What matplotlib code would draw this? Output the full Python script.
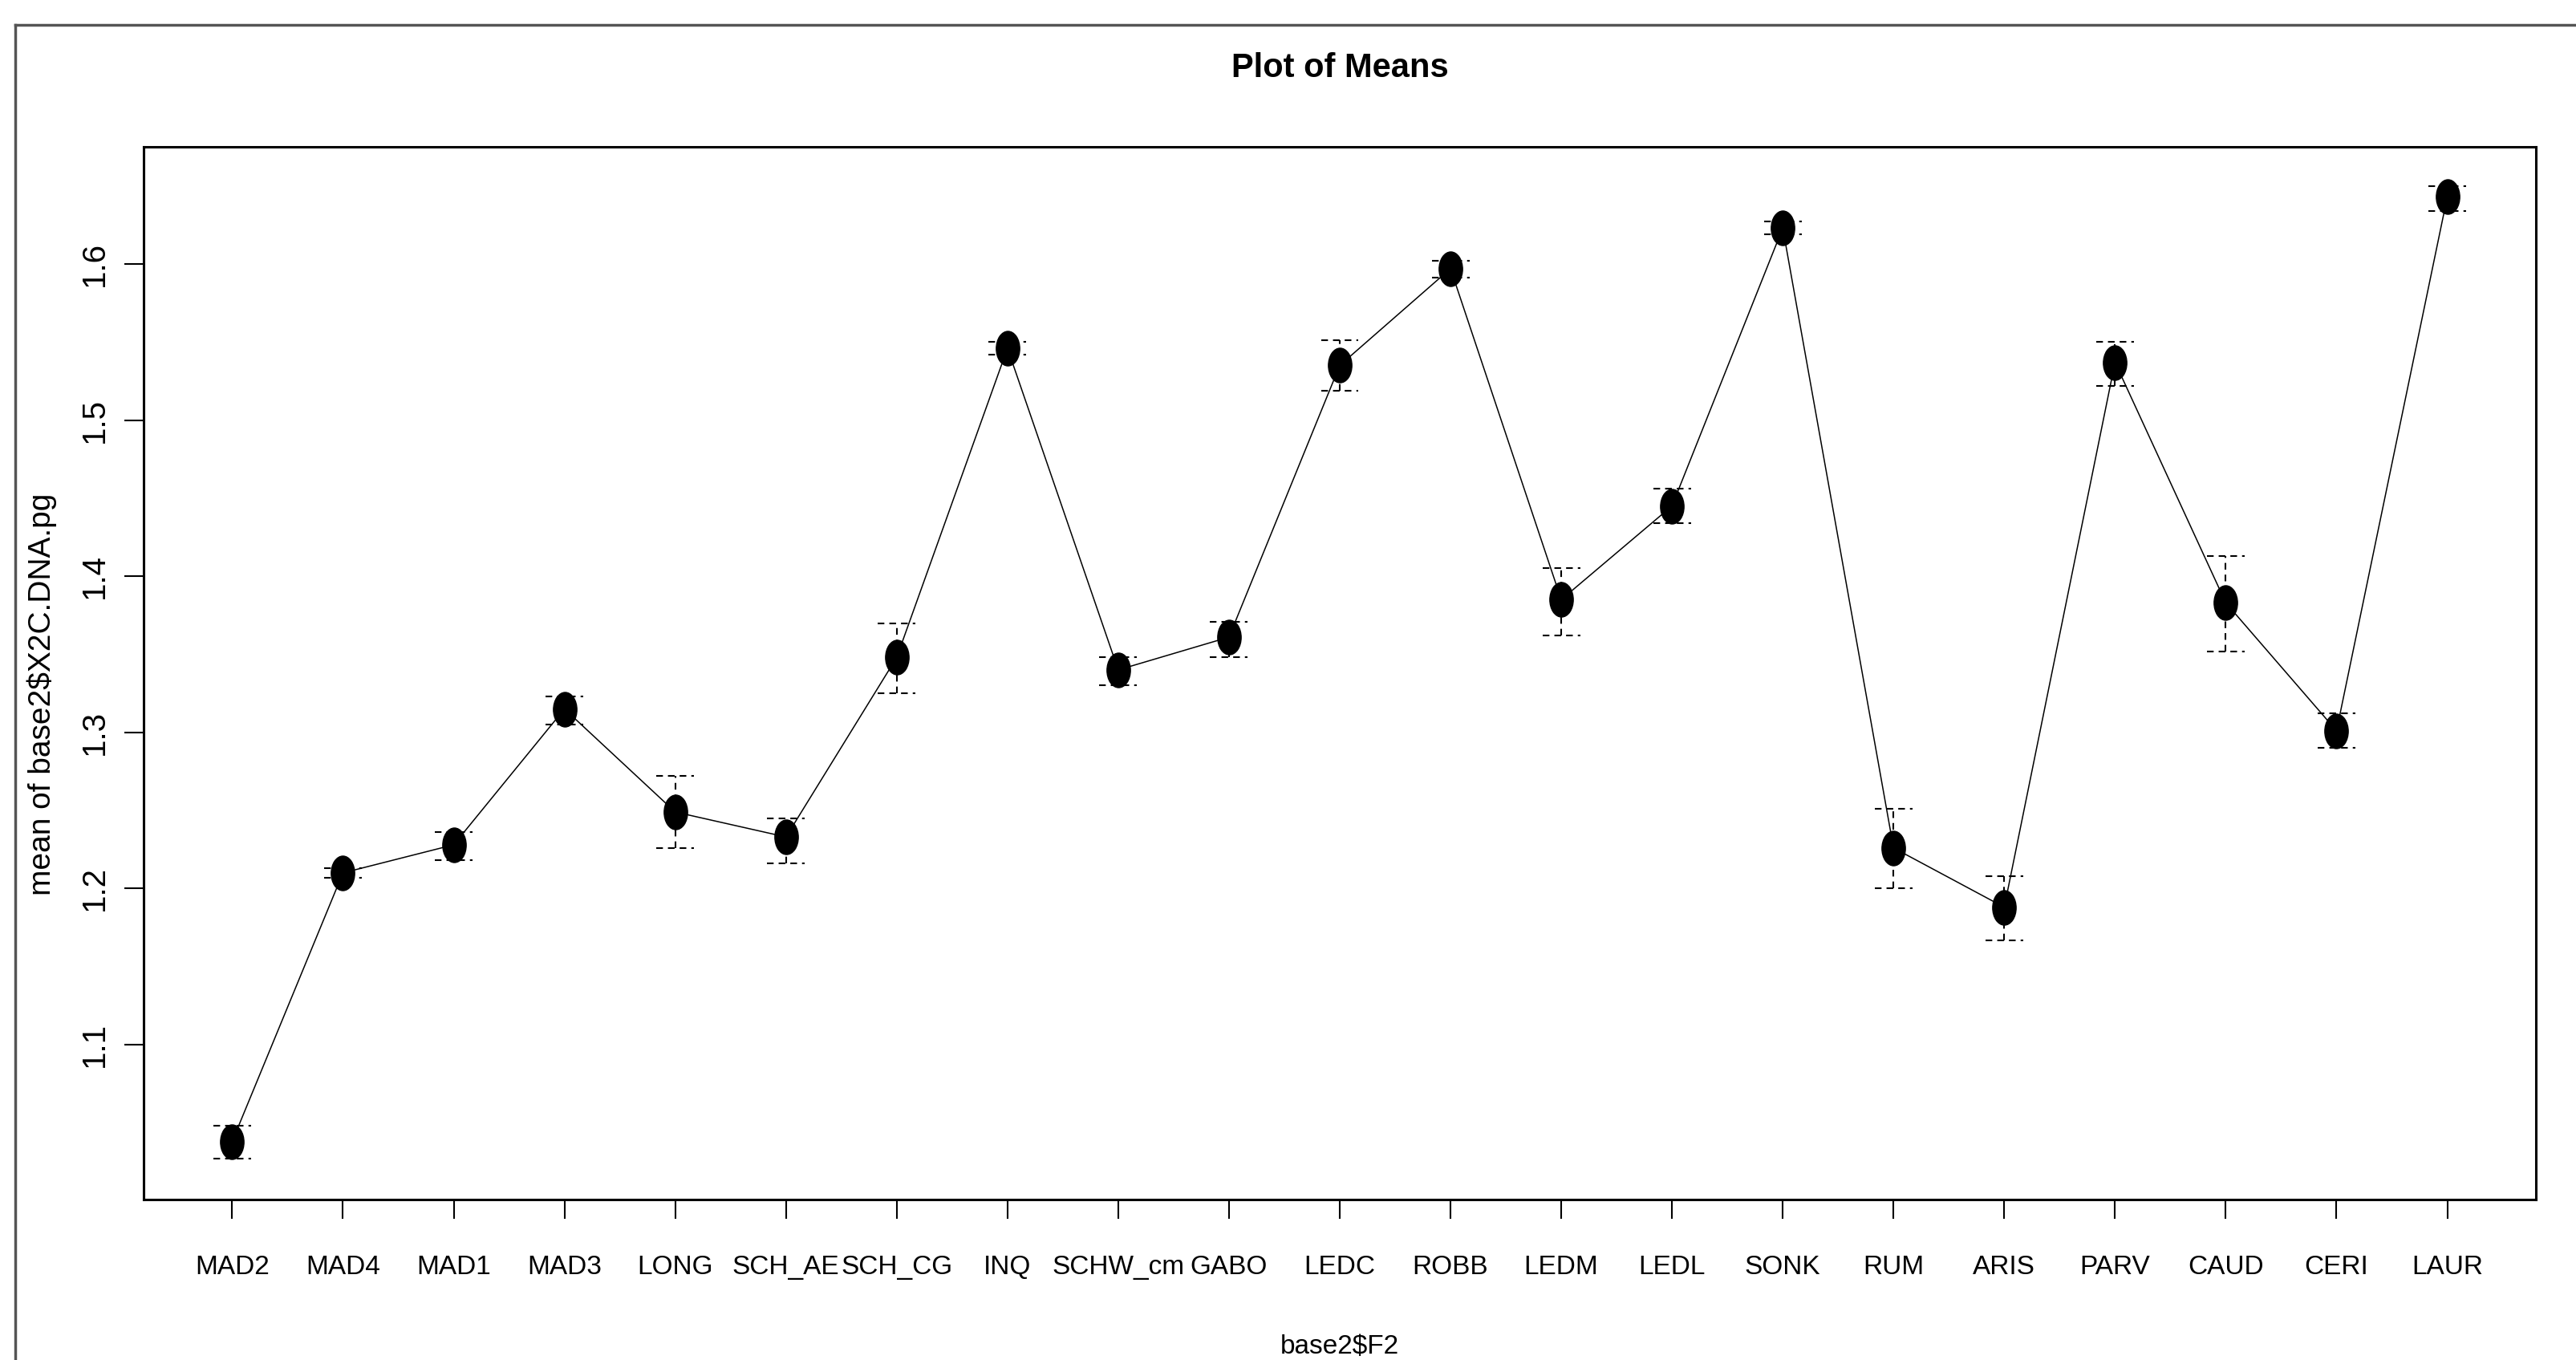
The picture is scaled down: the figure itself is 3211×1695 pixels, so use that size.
import numpy as np
import matplotlib
matplotlib.use('Agg')
from matplotlib import pyplot as plt
from matplotlib.path import Path
from matplotlib.transforms import Affine2D
from matplotlib.lines import Line2D

# group means with their confidence limits
groups = ['MAD2', 'MAD4', 'MAD1', 'MAD3', 'LONG', 'SCH_AE', 'SCH_CG', 'INQ',
          'SCHW_cm', 'GABO', 'LEDC', 'ROBB', 'LEDM', 'LEDL', 'SONK', 'RUM',
          'ARIS', 'PARV', 'CAUD', 'CERI', 'LAUR']
means = [1.038, 1.210, 1.228, 1.315, 1.249, 1.233, 1.348, 1.546, 1.340, 1.361,
         1.535, 1.597, 1.385, 1.445, 1.623, 1.226, 1.188, 1.537, 1.383, 1.301, 1.643]
upper = [1.048, 1.213, 1.236, 1.323, 1.272, 1.245, 1.370, 1.550, 1.348, 1.371,
         1.551, 1.602, 1.405, 1.456, 1.627, 1.251, 1.208, 1.550, 1.413, 1.312, 1.650]
lower = [1.027, 1.207, 1.218, 1.305, 1.226, 1.216, 1.325, 1.542, 1.330, 1.348,
         1.519, 1.591, 1.362, 1.434, 1.619, 1.200, 1.167, 1.522, 1.352, 1.290, 1.634]
yticks = [1.1, 1.2, 1.3, 1.4, 1.5, 1.6]

font = ['Liberation Sans', 'DejaVu Sans']

W, H = 3212, 1695
fig = plt.figure(figsize=(W / 100, H / 100), dpi=100)
ax = fig.add_axes([179 / W, 1 - 1495 / H, (3161 - 179) / W, (1495 - 183) / H])

x = np.arange(1, len(groups) + 1)

# error bars: dashed shafts and dashed caps, like R's plotMeans
dash = (0, (4, 3))
ax.vlines(x, lower, upper, colors='black', linestyles=dash, linewidth=1.5)
ax.hlines(upper, x - 0.17, x + 0.17, colors='black', linestyles=dash, linewidth=1.5)
ax.hlines(lower, x - 0.17, x + 0.17, colors='black', linestyles=dash, linewidth=1.5)

# means joined by a line, filled ellipse markers
ellipse = Path.unit_circle().transformed(Affine2D().scale(0.68, 1.0))
ax.plot(x, means, color='black', linewidth=1.1, marker=ellipse, markersize=31,
        markerfacecolor='black', markeredgecolor='black', zorder=3)

ax.set_xlim(0.2, 21.8)
ax.set_ylim(1.0008, 1.675)

ax.set_xticks(x)
ax.set_xticklabels(groups, fontsize=24, family=font)
ax.set_yticks(yticks)
ax.set_yticklabels([str(t) for t in yticks], rotation=90, va='center',
                   fontsize=29, family=font)
ax.tick_params(axis='both', length=17, width=1.5, direction='out', color='black')
ax.tick_params(axis='x', pad=33)
ax.tick_params(axis='y', pad=13)

for s in ax.spines.values():
    s.set_linewidth(2.2)

ax.set_ylabel('mean of base2$X2C.DNA.pg', fontsize=28, family=font, va='center')
ax.yaxis.set_label_coords(-0.0426, 0.48)
ax.set_xlabel('base2$F2', fontsize=24, family=font)
ax.xaxis.set_label_coords(0.5, -0.128)

fig.text(1670 / W, 1 - 85 / H, 'Plot of Means', ha='center', va='center',
         fontsize=30, fontweight='bold', family=font)

# grey window frame on the left and top
fig.add_artist(Line2D([19 / W, 19 / W], [0, 1 - 31 / H], transform=fig.transFigure,
                      color='#555555', linewidth=2.5))
fig.add_artist(Line2D([19 / W, 1], [1 - 31 / H, 1 - 31 / H], transform=fig.transFigure,
                      color='#555555', linewidth=2.5))

fig.savefig('out.png', dpi=100)
